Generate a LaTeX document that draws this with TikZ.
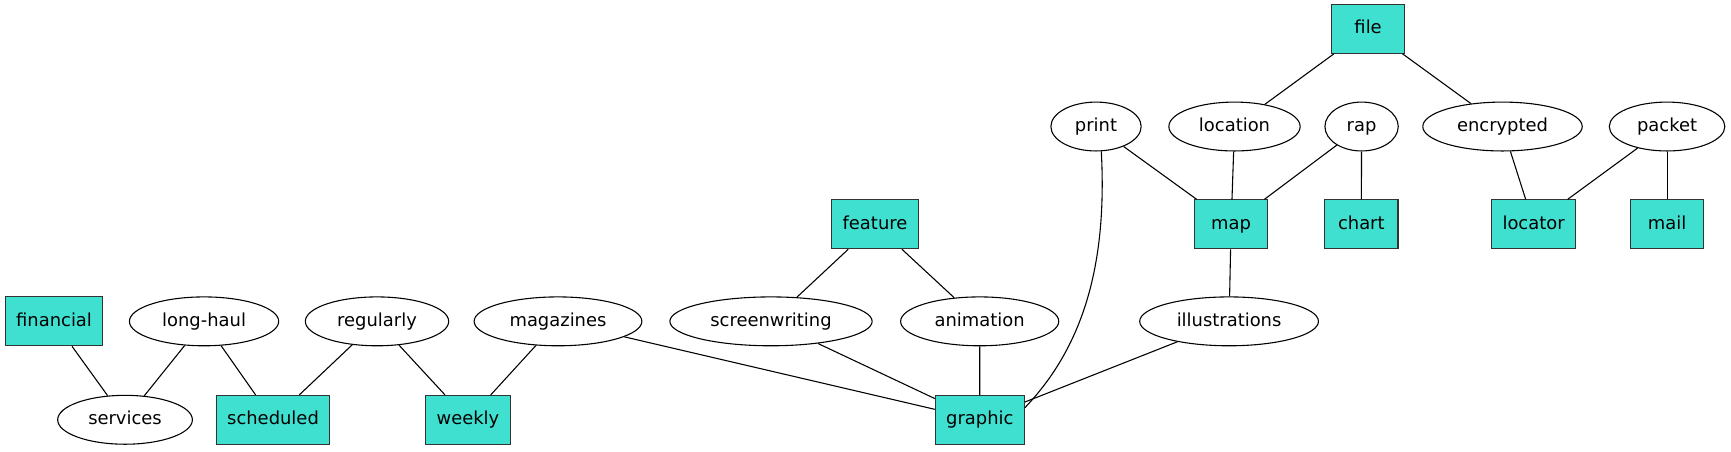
\documentclass[tikz,border=0pt]{standalone}
\usepackage{fontspec}
\setmainfont{DejaVu Sans}
\usepackage{xcolor}
\usepackage{tikz}
\usetikzlibrary{shapes.geometric}
\definecolor{turq}{HTML}{40E0D0}
\tikzset{
    word/.style={
        draw,
        ellipse,
        line width=0.8pt,
        inner xsep=8pt,
        inner ysep=2pt,
        minimum height=36pt,
        minimum width=54pt,
        text height=10pt,
        text depth=3pt,
        font=\fontsize{13.2pt}{16pt}\selectfont
    },
    topic/.style={
        draw=black!80,
        rectangle,
        line width=0.8pt,
        inner xsep=8pt,
        minimum height=36pt,
        minimum width=54pt,
        text height=10pt,
        text depth=3pt,
        fill=turq,
        font=\fontsize{13.2pt}{16pt}\selectfont
    },
    link/.style={line width=0.8pt}
}

\begin{document}
\begin{tikzpicture}[x=1pt,y=1pt]
        \useasboundingbox (0,0) rectangle (1275,332.2);
        % top rank
        \node[topic] (file) at (1007.7,311) {file};
        % second rank
        \node[word] (print) at (807.3,239) {print};
        \node[word] (location) at (909.3,239) {location};
        \node[word] (rap) at (1002.9,239) {rap};
        \node[word] (encrypted) at (1106.7,239) {encrypted};
        \node[word] (packet) at (1227.9,239) {packet};
        % third rank
        \node[topic] (feature) at (644.5,167) {feature};
        \node[topic] (map) at (906.8,167) {map};
        \node[topic] (chart) at (1002.7,167) {chart};
        \node[topic] (locator) at (1129.6,167) {locator};
        \node[topic] (mail) at (1227.9,167) {mail};
        % fourth rank
        \node[topic] (financial) at (39.8,95.5) {financial};
        \node[word] (longhaul) at (150.3,95.5) {long-haul};
        \node[word] (regularly) at (277.7,95.5) {regularly};
        \node[word] (magazines) at (411.0,95.5) {magazines};
        \node[word] (screenwriting) at (567.9,95.5) {screenwriting};
        \node[word] (animation) at (721.6,95.5) {animation};
        \node[word] (illustrations) at (905.3,95.5) {illustrations};
        % bottom rank
        \node[word] (services) at (92.1,23) {services};
        \node[topic] (scheduled) at (201.1,23) {scheduled};
        \node[topic] (weekly) at (344.7,23) {weekly};
        \node[topic] (graphic) at (721.7,23) {graphic};

        \draw[link] (financial) -- (services);
        \draw[link] (longhaul) -- (services);
        \draw[link] (longhaul) -- (scheduled);
        \draw[link] (regularly) -- (scheduled);
        \draw[link] (regularly) -- (weekly);
        \draw[link] (magazines) -- (weekly);
        \draw[link] (magazines) -- (graphic);
        \draw[link] (screenwriting) -- (graphic);
        \draw[link] (animation) -- (graphic);
        \draw[link] (illustrations) -- (graphic);
        \draw[link] (print.-78) .. controls (815.5,140) and (799.2,78.1) .. (graphic.15);
        \draw[link] (feature) -- (screenwriting);
        \draw[link] (feature) -- (animation);
        \draw[link] (map) -- (illustrations);
        \draw[link] (print) -- (map);
        \draw[link] (location) -- (map);
        \draw[link] (rap) -- (map);
        \draw[link] (rap) -- (chart);
        \draw[link] (file) -- (location);
        \draw[link] (file) -- (encrypted);
        \draw[link] (encrypted) -- (locator);
        \draw[link] (packet) -- (locator);
        \draw[link] (packet) -- (mail);
    \end{tikzpicture}
\end{document}
